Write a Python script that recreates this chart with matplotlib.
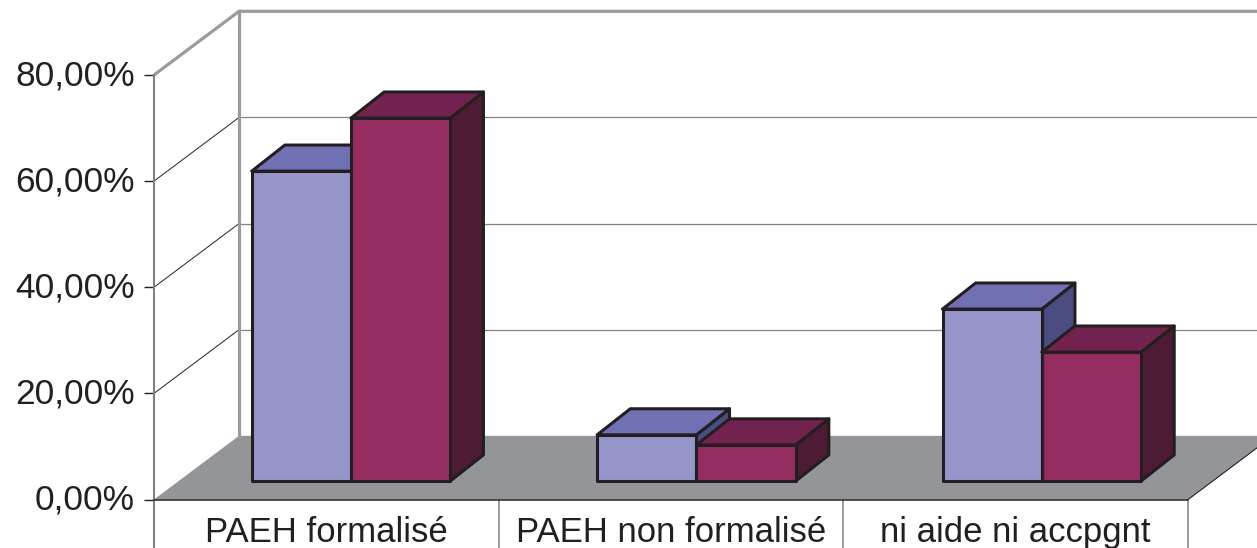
import matplotlib
matplotlib.use('Agg')
import matplotlib.pyplot as plt
from matplotlib.transforms import ScaledTranslation

categories = ['PAEH formalisé', 'PAEH non formalisé', 'ni aide ni accpgnt']
serie_bleue = [58.4, 8.7, 32.4]
serie_rouge = [68.4, 6.8, 24.3]
yticks = [0, 20, 40, 60, 80]
ylabels = ['0,00%', '20,00%', '40,00%', '60,00%', '80,00%']

# fake 3d: how far the back wall is shifted, in data units
DX, DY = 0.2466, 12.0
FRONT = 0.29       # where the bars start inside the depth
BAR_DX = 0.39      # depth of a bar, as a share of the wall shift
BAR_DY = 0.41
BAR_W = 0.288
GAP = 0.212
STEP = 1.002       # the groups sit a bit wider apart than the separators

INK = '#231f20'
FLOOR = '#939598'
WALL = '#9a9b9e'
BLEU = ('#9595c9', '#7070b3', '#4b4d82')
ROUGE = ('#952d61', '#72224e', '#4d1b34')

plt.rcParams['font.family'] = ['Liberation Sans', 'DejaVu Sans']

fig = plt.figure(figsize=(12.57, 5.48), dpi=100)
ax = fig.add_axes([154 / 1257, 0, (1257 - 154) / 1257, 1])
ax.set_xlim(0, (1257 - 154) / 344.7)
ax.set_ylim(-48.5 * 80 / 424.5, 499.5 * 80 / 424.5)
ax.patch.set_visible(False)

# floor
ax.fill([0, DX, 3 + DX, 3], [0, DY, DY, 0], color=FLOOR, lw=0, zorder=1)

# grid on the back wall and the side wall
for t in yticks[1:-1]:
    ax.plot([DX, 5], [t + DY, t + DY], color='#808285', lw=0.9, zorder=1)
    ax.plot([0, DX], [t, t + DY], color=INK, lw=0.7, zorder=1)
ax.plot([0, DX, 5], [80, 80 + DY, 80 + DY], color=WALL, lw=2.3, zorder=2)
ax.plot([DX, DX], [DY, 80 + DY], color=WALL, lw=2.3, zorder=1)
ax.plot([3, 3 + DX], [0, DY], color=INK, lw=0.8, zorder=2)

# separators under the axis
ax.vlines([0, 1, 2, 3], ax.get_ylim()[0], 0, color='#808285', lw=1.1, zorder=2)


def bar3d(x, v, cols, z):
    x0 = x + FRONT * DX
    x1 = x0 + BAR_W
    y0 = FRONT * DY
    y1 = y0 + v
    ddx = BAR_DX * DX
    ddy = BAR_DY * DY
    kw = dict(edgecolor=INK, lw=2.2, zorder=z, joinstyle='round')
    ax.fill([x1, x1 + ddx, x1 + ddx, x1], [y0, y0 + ddy, y1 + ddy, y1], facecolor=cols[2], **kw)
    ax.fill([x0, x1, x1 + ddx, x0 + ddx], [y1, y1, y1 + ddy, y1 + ddy], facecolor=cols[1], **kw)
    ax.fill([x0, x1, x1, x0], [y0, y0, y1, y1], facecolor=cols[0], **kw)


for i in range(len(categories)):
    bar3d(i * STEP + GAP, serie_bleue[i], BLEU, 3 + i)
    bar3d(i * STEP + GAP + BAR_W, serie_rouge[i], ROUGE, 3.5 + i)

# axes
for s in ['top', 'right']:
    ax.spines[s].set_visible(False)
ax.spines['left'].set_color('#808285')
ax.spines['left'].set_linewidth(1.5)
ax.spines['left'].set_bounds(ax.get_ylim()[0], 80)
ax.spines['bottom'].set_position(('data', 0))
ax.spines['bottom'].set_color(INK)
ax.spines['bottom'].set_linewidth(1.1)
ax.spines['bottom'].set_bounds(0, 3)
ax.spines['bottom'].set_zorder(6)

ax.set_yticks(yticks)
ax.set_yticklabels(ylabels)
ax.tick_params(axis='y', length=7.2, width=1, color=INK, pad=6.5, labelsize=25.5, labelcolor=INK)
ax.set_xticks([0.5, 1.5, 2.5])
ax.set_xticklabels(categories)
ax.tick_params(axis='x', length=0, pad=12, labelsize=25, labelcolor=INK)

# the y labels sit a little above their ticks
for lab in ax.get_yticklabels():
    lab.set_transform(lab.get_transform() + ScaledTranslation(0, 3 / 100, fig.dpi_scale_trans))

fig.savefig('out.png', dpi=100)
